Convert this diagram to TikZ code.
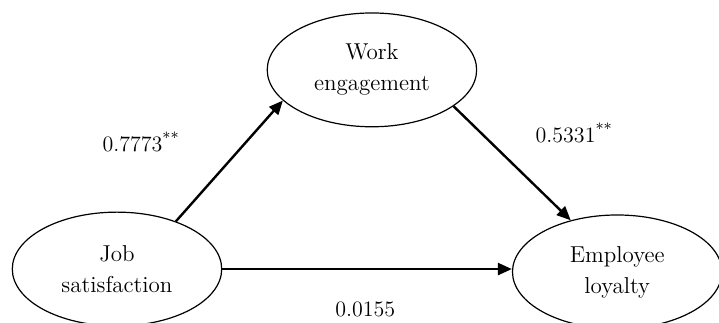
\documentclass[tikz,border=0pt]{standalone}
\usetikzlibrary{positioning}
\usetikzlibrary{shapes.geometric}
\usetikzlibrary{arrows.meta}
\tikzset{>={Triangle[length=7pt,width=6pt]}}
\tikzset{latent/.style={draw, ellipse, semithick, minimum width=3.68cm, minimum height=2cm, inner sep=0pt, align=center, font=\fontsize{11.5}{15.5}\selectfont}}
\tikzset{coef/.style={anchor=base west, inner sep=0pt, font=\fontsize{11}{13}\selectfont}}
\tikzset{path/.style={->, very thick}}

\begin{document}
\begin{tikzpicture}[on grid]
        \useasboundingbox (-2.056,-0.931) rectangle (10.579,4.728);

        \node[latent] (js) at (0, 0) {Job\\satisfaction};
        \node[latent, above right=3.5 and 4.48 of js] (we) {Work\\engagement};
        \node[latent, right=8.79 of js, yshift=-0.5mm] (el) {Employee\\loyalty};

        \node[coef] (a) at (-0.26, 2.06) {0.7773\textsuperscript{**}};
        \node[coef] (b) at (7.35, 2.23) {0.5331\textsuperscript{**}};
        \node[coef] (c) at (3.83, -0.84) {0.0155};

        \draw[path] (js.39) -- (we.199);
        \draw[path] (we.336) -- (el.132);
        \draw[path] (js.east) -- (js.east -| el.west);
    \end{tikzpicture}
\end{document}
